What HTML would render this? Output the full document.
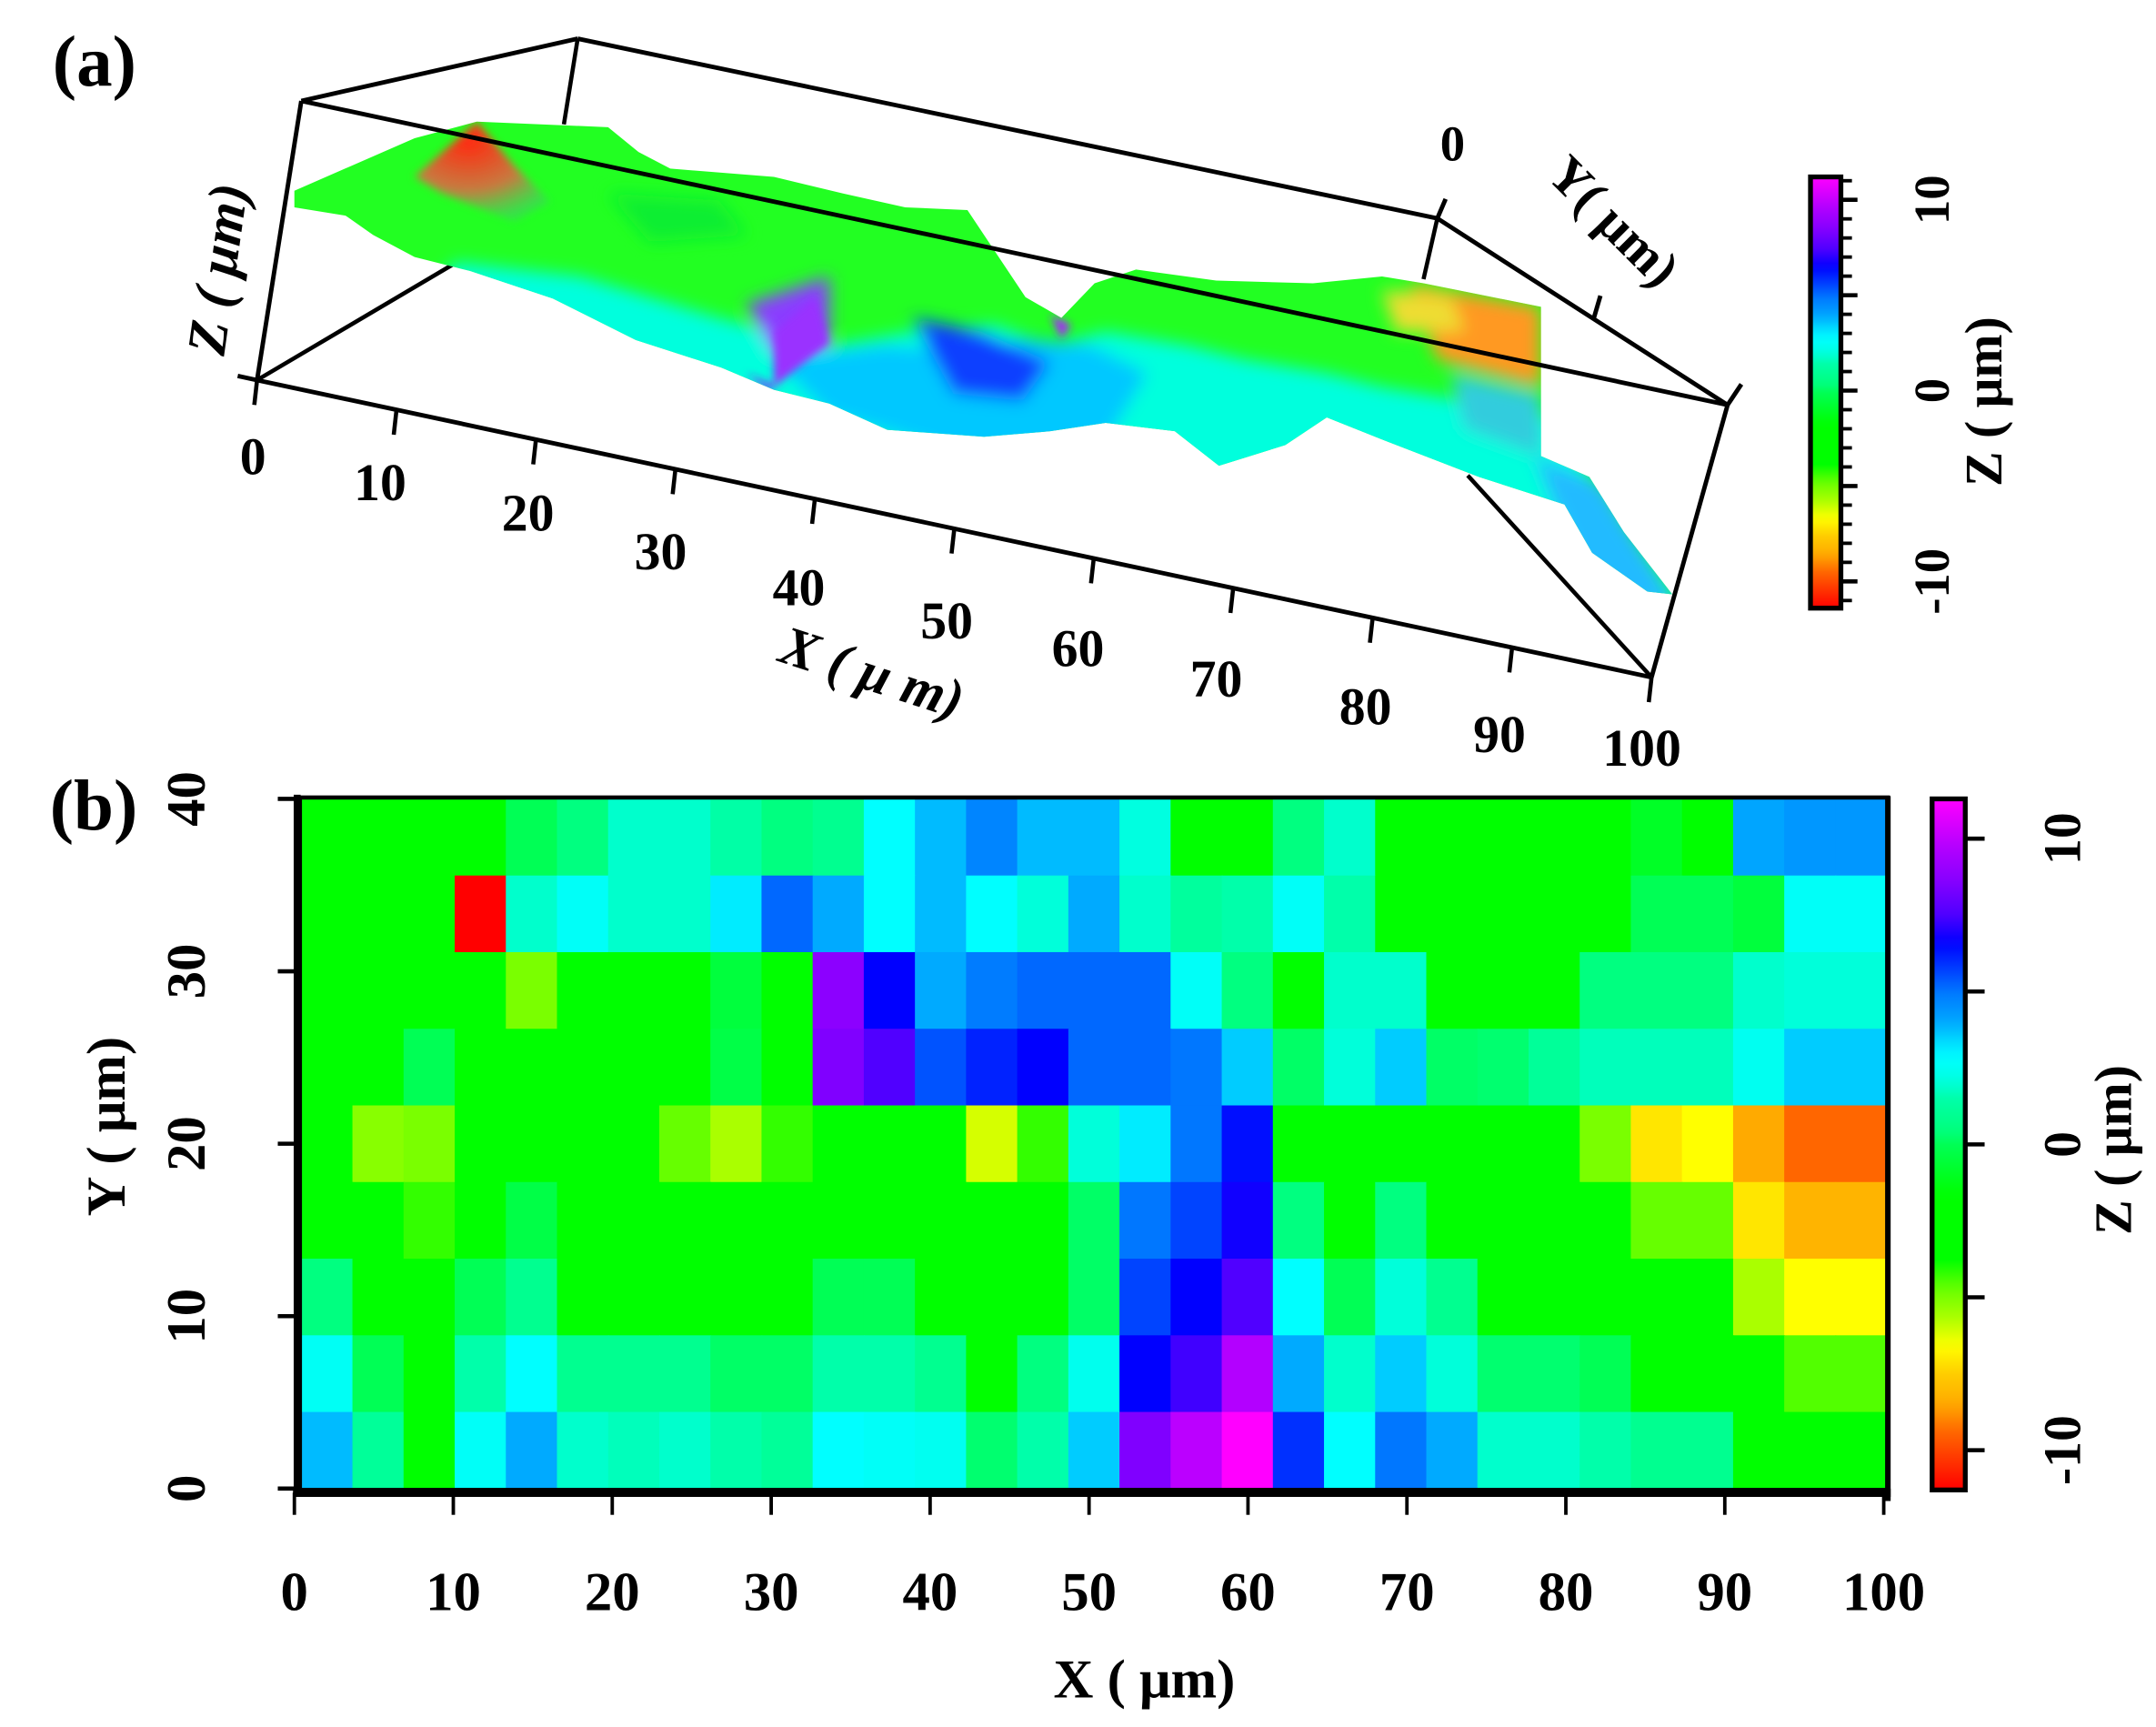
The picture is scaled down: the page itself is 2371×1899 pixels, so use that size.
<!DOCTYPE html>
<html><head><meta charset="utf-8">
<style>
html,body{margin:0;padding:0;background:#fff;}
svg{display:block;}
text{font-family:"Liberation Serif","DejaVu Serif",serif;font-weight:bold;fill:#000;}
</style></head>
<body>
<svg id="fig" width="2371" height="1899" viewBox="0 0 1560 1249.5" preserveAspectRatio="none" xmlns="http://www.w3.org/2000/svg">
<defs>
  <filter id="soft" x="-5%" y="-5%" width="110%" height="110%"><feGaussianBlur stdDeviation="6"/></filter>
  <filter id="soft2" x="-5%" y="-5%" width="110%" height="110%"><feGaussianBlur stdDeviation="3"/></filter>
  <radialGradient id="peakGrad" cx="0.4" cy="0.2" r="0.8">
    <stop offset="0" stop-color="#ff2a10"/><stop offset="0.6" stop-color="#c87a40"/><stop offset="1" stop-color="#40d060" stop-opacity="0.6"/>
  </radialGradient>
  <clipPath id="surfClip"><path id="surfPath" d="M213,138 L300,100 L345,88 L440,92 L462,110 L485,122 L560,128 L610,140 L655,150 L700,152 L720,182 L742,215 L768,230 L792,205 L822,195 L880,203 L950,205 L1000,200 L1030,205 L1115,222 L1115,330 L1150,345 L1175,385 L1210,430 L1192,428 L1152,400 L1132,365 L1070,345 L1000,318 L960,302 L930,322 L882,337 L850,312 L800,306 L760,312 L712,316 L642,311 L600,292 L560,282 L522,266 L460,246 L400,216 L340,196 L300,186 L270,170 L250,156 L213,150 Z"/></clipPath>
</defs>

<!-- ============ PANEL (a) ============ -->
<g id="panel-a">
  <text x="38" y="62" font-size="52">(a)</text>

  <g stroke="#000" stroke-width="3" fill="none">
    <line x1="418" y1="28" x2="408" y2="90"/>
    <line x1="186" y1="275" x2="330" y2="190"/>
    <line x1="1040" y1="158" x2="1030" y2="202"/>
    <line x1="1062" y1="344" x2="1195" y2="490"/>
  </g>

  <g>
    <path d="M213,138 L300,100 L345,88 L440,92 L462,110 L485,122 L560,128 L610,140 L655,150 L700,152 L720,182 L742,215 L768,230 L792,205 L822,195 L880,203 L950,205 L1000,200 L1030,205 L1115,222 L1115,330 L1150,345 L1175,385 L1210,430 L1192,428 L1152,400 L1132,365 L1070,345 L1000,318 L960,302 L930,322 L882,337 L850,312 L800,306 L760,312 L712,316 L642,311 L600,292 L560,282 L522,266 L460,246 L400,216 L340,196 L300,186 L270,170 L250,156 L213,150 Z" fill="#22ff22"/>
    <g clip-path="url(#surfClip)">
      <g filter="url(#soft)">
        <path d="M330,190 L420,200 L520,230 L600,250 L660,240 L720,235 L760,250 L800,240 L860,250 L900,260 L960,270 L1000,280 L1060,290 L1120,300 L1220,440 L1100,440 L700,340 L300,220 Z" fill="#00ffdd"/>
        <path d="M560,260 L640,250 L700,255 L740,245 L790,250 L830,270 L800,320 L700,330 L600,300 Z" fill="#00c8ff"/>
        <path d="M660,230 L710,240 L760,262 L740,290 L690,285 Z" fill="#1040ff"/>
        <path d="M540,220 L600,200 L600,250 L560,255 Z" fill="#8a3cff"/>
        <path d="M1110,330 L1160,350 L1215,440 L1150,430 Z" fill="#22bbff"/>
        <path d="M1020,205 L1115,222 L1115,280 L1040,260 Z" fill="#ff9922"/>
        <path d="M1000,210 L1050,215 L1060,240 L1010,240 Z" fill="#eedd33"/>
        <path d="M1050,270 L1115,285 L1115,330 L1060,310 Z" fill="#33ccdd"/>
        <path d="M440,140 L520,145 L540,170 L470,175 Z" fill="#11ee33"/>
      </g>
      <g filter="url(#soft2)">
        <path d="M345,88 L372,120 L398,146 L372,160 L320,140 L300,128 Z" fill="url(#peakGrad)"/>
        <path d="M560,240 L590,215 L600,248 L560,280 Z" fill="#9a30ff"/>
        <path d="M760,228 L775,235 L768,245 Z" fill="#aa22ff"/>
        <path d="M540,270 L562,280 L555,282 Z" fill="#8822ff"/>
      </g>
    </g>
  </g>

  <g stroke="#000" stroke-width="3.2" fill="none">
    <line x1="218" y1="73" x2="418" y2="28"/>
    <line x1="418" y1="28" x2="1040" y2="158"/>
    <line x1="218" y1="73" x2="1250" y2="293"/>
    <line x1="1040" y1="158" x2="1250" y2="293"/>
    <line x1="218" y1="73" x2="186" y2="275"/>
    <line x1="1250" y1="293" x2="1195" y2="490"/>
    <line x1="186" y1="275" x2="1195" y2="490"/>
    <line x1="172" y1="272" x2="186" y2="275"/>
    <line x1="1250" y1="293" x2="1260" y2="278"/>
    <line x1="1040" y1="158" x2="1046" y2="144"/>
    <line x1="1153" y1="231" x2="1158" y2="214"/>
  </g>
  <g id="ticks3d"></g>
  <text x="1042" y="116" font-size="36">0</text>
  <text transform="translate(1118,128) rotate(45)" font-size="38">Y( μm)</text>
  <text transform="translate(162,258) rotate(-82)" font-size="40" font-style="italic">Z ( μm)</text>
  <text transform="translate(562,478) rotate(18)" font-size="40" font-style="italic">X ( μ  m)</text>

  <g id="cbarA"></g>
  <text transform="translate(1448,352) rotate(-90)" font-size="38">Z ( μm)</text>
</g>

<!-- ============ PANEL (b) ============ -->
<g id="panel-b">
  <text x="36" y="600" font-size="52">(b)</text>
  <g id="cells"></g>
  <g id="axesB"></g>
  <text x="828" y="1228" font-size="40" text-anchor="middle">X ( μm)</text>
  <text transform="translate(90,815) rotate(-90)" font-size="40" text-anchor="middle">Y ( μm)</text>
  <g id="cbarB"></g>
  <text transform="translate(1542,832) rotate(-90)" font-size="38" text-anchor="middle">Z ( μm)</text>
</g>
</svg>

<script>
// ---- data ----
const cmapValues = [-12, -10, -9, -8, -7, -6, -5, -4, -1.8, 0, 0.5, 1, 1.6, 2, 2.5, 3, 3.8, 4.2, 5.3, 6, 7, 8, 9, 10.5, 12];
const cmapColors = ["#ff0000","#ff6600","#ffaa00","#ffcc00","#ffff00","#aaff00","#66ff00","#00ff00","#00ff00","#00ff55","#00ff80","#00ff90","#00ffaa","#00ffcc","#00ffee","#00ffff","#00ccff","#00aaff","#0077ff","#0044ff","#0000ff","#5000ff","#8000ff","#bb00ff","#ff00ff"];
const xTickLabels = ["0","10","20","30","40","50","60","70","80","90","100"];
const xTickValues = [0,10,20,30,40,50,60,70,80,90,100];
const yTickValues = [0,10,20,30,40];
const cbarTickValues = [10,5,0,-5,-10];
const cbarTickLabels = ["10","","0","","-10"];
// rows from top (Y=40) to bottom (Y=0), 31 columns along X
const zRow0 = [-2,-2,-2,-2,0,0.5,2,2,1.5,0.5,1,3,4,5,4,4,2.3,-2,-2,0.5,2,-2,-2,-2,-2,-2,-1,-2,4.3,4.6,4.6];
const zRow1 = [-2,-2,-2,-12,2,2.8,2,2,3.3,5.5,4.2,3,4,3,2.2,4.2,2,1.3,1.6,2.8,1.6,-2,-2,-2,-2,-2,0,0,-0.5,2.8,2.8];
const zRow2 = [-2,-2,-2,-2,-5.3,-2,-2,-2,-0.5,-2,9.3,7,4.2,5.2,5.5,5.5,5.5,2.8,0.5,-2,2,2,-2,-2,-2,0.5,0.5,0.5,2,2.2,2.2];
const zRow3 = [-2,-2,0,-2,-2,-2,-2,-2,-0.3,-2,9,8,5.8,6.5,7,5.5,5.5,5.3,3.8,0.2,2.2,3.8,0.2,0.3,1.2,1.8,1.8,1.8,2.6,3.8,3.8];
const zRow4 = [-2,-5.5,-5.3,-2,-2,-2,-2,-5,-6,-4.5,-2,-2,-2,-6.5,-4.5,2.2,3.3,5.3,6.8,-2,-2,-2,-2,-2,-2,-5.3,-7.5,-7,-9,-10,-10];
const zRow5 = [-2,-2,-4.5,-2,-0.3,-2,-2,-2,-2,-2,-2,-2,-2,-2,-2,0.2,5.3,6,7.2,0.5,-2,0.5,-2,-2,-2,-2,-5,-5,-7.5,-8.7,-8.7];
const zRow6 = [0.5,-2,-2,0,1,-2,-2,-2,-2,-2,0,0,-2,-2,-2,0.2,6,7,8,3,0,2.2,1,-2,-2,-2,-2,-2,-6,-7,-7];
const zRow7 = [2.7,0,-2,1.6,3,1,1,1,0.2,0.2,1.6,1.6,1,-2,0.5,2.5,7,7.8,10.3,4.2,2,3.8,2.2,0.3,0.3,0,-2,-2,-2,-4.8,-4.8];
const zRow8 = [4,1.2,-2,2.8,4.2,2,1.8,2,1.6,1.2,3,2.8,2.6,0.3,1.6,3.8,9,10.5,12,6.3,3,5.3,4.2,2,2,1.6,1,1,-2,-2,-2];
const zRows = [zRow0,zRow1,zRow2,zRow3,zRow4,zRow5,zRow6,zRow7,zRow8];

const NS = "http://www.w3.org/2000/svg";
function mk(tag, attrs, parent){ const e=document.createElementNS(NS,tag); for(const k in attrs) e.setAttribute(k,attrs[k]); parent.appendChild(e); return e; }
function hex2rgb(h){ return [parseInt(h.substr(1,2),16),parseInt(h.substr(3,2),16),parseInt(h.substr(5,2),16)]; }
function colorFor(v){
  if(v<=cmapValues[0]) return cmapColors[0];
  for(let i=1;i<cmapValues.length;i++){
    if(v<=cmapValues[i]){
      const t=(v-cmapValues[i-1])/(cmapValues[i]-cmapValues[i-1]);
      const a=hex2rgb(cmapColors[i-1]), b=hex2rgb(cmapColors[i]);
      return "rgb("+a.map((c,j)=>Math.round(c+(b[j]-c)*t)).join(",")+")";
    }
  }
  return cmapColors[cmapColors.length-1];
}

const plotL=218, plotR=1365, plotT=578, plotB=1077;
const xAxis = v => 213 + v*(1363-213)/100;
const yAxis = v => plotB - v*(plotB-plotT)/40;
const nCols = zRow0.length, nRows = zRows.length;
const colX = i => plotL + i*(plotR-plotL)/nCols;
const rowY = r => plotT + r*(plotB-plotT)/nRows;

const cells=document.getElementById('cells');
zRows.forEach((row,r)=>{
  row.forEach((v,i)=>{
    const c=mk('rect',{x:colX(i),y:rowY(r),width:colX(i+1)-colX(i)+0.6,height:rowY(r+1)-rowY(r)+0.6,fill:colorFor(v)},cells);
    
    
  });
});

const axesB=document.getElementById('axesB');
let fr=mk('rect',{x:plotL-1,y:plotT-1,width:plotR-plotL+2,height:plotB-plotT+2,fill:'none',stroke:'#000','stroke-width':3},axesB);


let la=mk('line',{x1:215,y1:575,x2:215,y2:1083,stroke:'#000','stroke-width':5},axesB);


let ba=mk('line',{x1:212,y1:1080,x2:1368,y2:1080,stroke:'#000','stroke-width':6},axesB);


let ra=mk('line',{x1:1366,y1:576,x2:1366,y2:1086,stroke:'#000','stroke-width':4},axesB);


xTickValues.forEach((v,i)=>{
  const t=mk('line',{x1:xAxis(v),y1:1080,x2:xAxis(v),y2:1096,stroke:'#000','stroke-width':2.5},axesB);
  
  
  const l=mk('text',{x:xAxis(v),y:1165,'font-size':40,'text-anchor':'middle'},axesB);
  l.textContent=xTickLabels[i];
  
  
});
yTickValues.forEach(v=>{
  const t=mk('line',{x1:201,y1:yAxis(v),x2:215,y2:yAxis(v),stroke:'#000','stroke-width':3},axesB);
  
  
  const l=mk('text',{transform:'translate(148,'+yAxis(v)+') rotate(-90)','font-size':40,'text-anchor':'middle'},axesB);
  l.textContent=String(v);
  
  
});

function colorbar(gid, x, w, top, bot, vTop, vBot, majorLen, minor, labelX, fs){
  const g=document.getElementById(gid);
  const scale = v => top + (vTop - v)*(bot-top)/(vTop-vBot);
  const defs=document.querySelector('defs');
  const gr=mk('linearGradient',{id:gid+'-grad',x1:0,y1:0,x2:0,y2:1},defs);
  for(let k=0;k<=60;k++){
    const v=12-24*k/60;
    mk('stop',{offset:(k/60),'stop-color':colorFor(v)},gr);
  }
  const r=mk('rect',{x:x,y:top,width:w,height:bot-top,fill:'url(#'+gid+'-grad)',stroke:'#000','stroke-width':3.5},g);
  
  
  if(minor){
    for(let v=Math.ceil(vBot);v<=Math.floor(vTop);v++){
      const t=mk('line',{x1:x+w,y1:scale(v),x2:x+w+8,y2:scale(v),stroke:'#000','stroke-width':2.5},g);
      
      
    }
  }
  cbarTickValues.forEach((v,i)=>{
    const t=mk('line',{x1:x+w,y1:scale(v),x2:x+w+majorLen,y2:scale(v),stroke:'#000','stroke-width':3},g);
    
    
    if(cbarTickLabels[i]){
      const l=mk('text',{transform:'translate('+labelX+','+scale(v)+') rotate(-90)','font-size':fs,'text-anchor':'middle'},g);
      l.textContent=cbarTickLabels[i];
      
      
    }
  });
}
colorbar('cbarB',1398,24,578,1078,11.3,-11.3,14,false,1505,38);
colorbar('cbarA',1310,22,128,440,11.2,-11.4,12,true,1410,36);

const t3=document.getElementById('ticks3d');
const ax0=[186,275], ax1=[1195,490];
const x3d = v => [ax0[0]+(ax1[0]-ax0[0])*v/100, ax0[1]+(ax1[1]-ax0[1])*v/100];
const lab3d = [[183,343],[275,362],[382,384],[478,412],[578,438],[685,462],[780,482],[880,504],[988,524],[1085,544],[1188,554]];
xTickValues.forEach((v,i)=>{
  const p=x3d(v);
  const t=mk('line',{x1:p[0],y1:p[1],x2:p[0]-2,y2:p[1]+18,stroke:'#000','stroke-width':3},t3);
  
  
  const l=mk('text',{x:lab3d[i][0],y:lab3d[i][1],'font-size':38,'text-anchor':'middle'},t3);
  l.textContent=xTickLabels[i];
  
  
});
</script>
</body></html>
